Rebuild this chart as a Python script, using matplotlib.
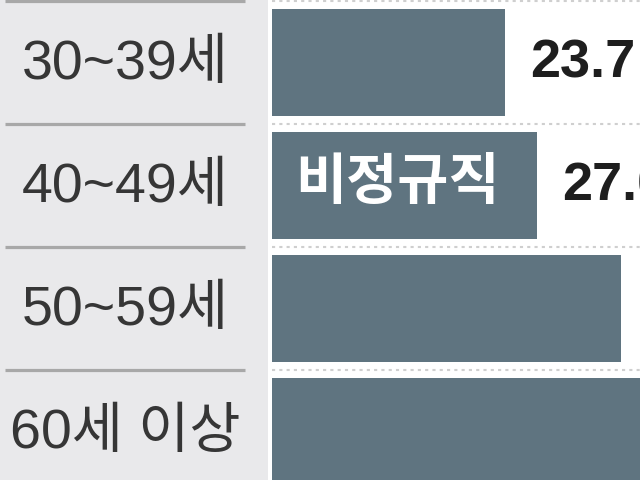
import matplotlib
matplotlib.use("Agg")
import matplotlib.pyplot as plt
import matplotlib.transforms as mtransforms
from matplotlib.patches import Rectangle

categories = ["30~39세", "40~49세", "50~59세", "60세 이상"]
values = [23.7, 27.0, 35.5, 40.0]
value_labels = ["23.7", "27.0"]
bar_note = "비정규직"

BAR_COLOR = "#5f7480"
PANEL_COLOR = "#e9e9eb"

fig = plt.figure(figsize=(6.4, 4.8), dpi=100)
fig.patch.set_facecolor("white")
ax = fig.add_axes([0, 0, 1, 1])
ax.set_axis_off()

px_per_unit = 9.82
ax.set_xlim(-272 / px_per_unit, 368 / px_per_unit)
pitch = 123.0
top = -0.505
ax.set_ylim(top + 480 / pitch, top)

# left label panel
ax.add_patch(Rectangle((0, 0), 268 / 640, 1, transform=ax.transAxes,
                       facecolor=PANEL_COLOR, edgecolor="none", zorder=0))

ypos = list(range(len(categories)))
ax.barh(ypos, values, height=0.87, color=BAR_COLOR, zorder=2)

lab_trans = mtransforms.blended_transform_factory(ax.transAxes, ax.transData)
latin = ["Liberation Sans", "Noto Sans CJK KR", "DejaVu Sans"]

# separators
for b in [y - 0.5 for y in ypos]:
    ax.plot([5 / 640, 245 / 640], [b, b], transform=lab_trans, color="#a8a8a8",
            lw=2.3, solid_capstyle="butt", zorder=1)
    ax.plot([272 / 640, 1.0], [b, b], transform=lab_trans, color="#cfcfcf",
            lw=1.5, linestyle=(0, (1.5, 2.0)), zorder=1)

for y, cat in zip(ypos, categories):
    ax.text(125 / 640, y + 0.02, cat, transform=lab_trans, ha="center", va="center",
            fontsize=40, color="#363636", family=latin, zorder=3)

for y, v, lab in zip(ypos, values, value_labels):
    ax.text(v + 25 / px_per_unit, y + 0.01, lab, ha="left", va="center",
            fontsize=39, color="#1e1e1e", family=latin, fontweight="bold",
            zorder=3, clip_on=False)

ax.text(23 / px_per_unit, 0.98, bar_note, ha="left", va="center",
        fontsize=40, color="white", family=["Noto Sans CJK KR", "DejaVu Sans"],
        fontweight="bold", zorder=3)

fig.savefig("out.png", dpi=100)
